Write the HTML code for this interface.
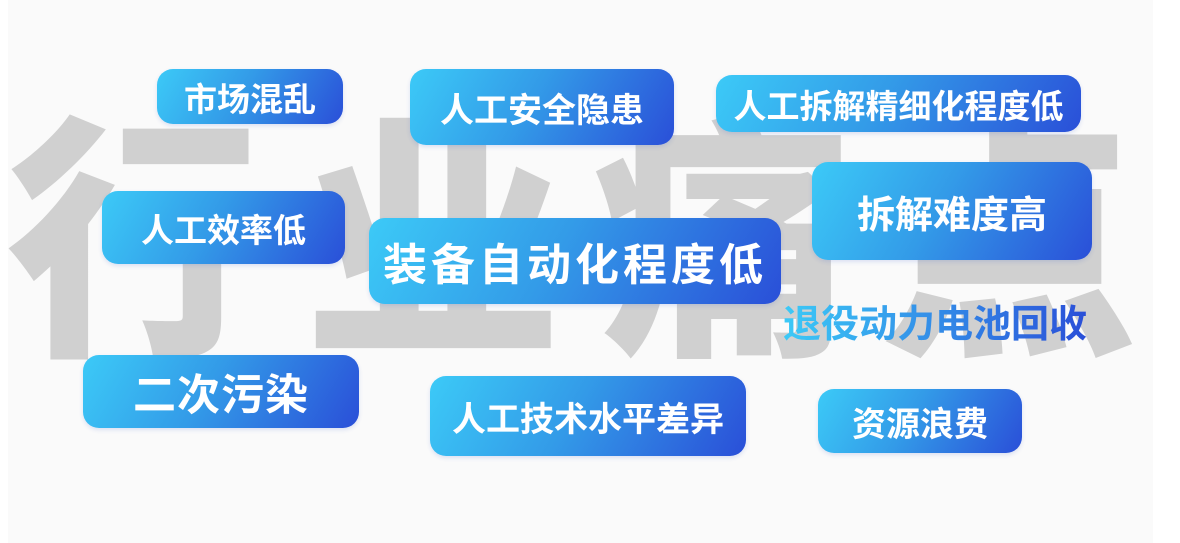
<!DOCTYPE html>
<html><head><meta charset="utf-8"><style>
*{margin:0;padding:0;box-sizing:border-box}
body{width:1180px;height:543px;background:#fff;position:relative;overflow:hidden;font-family:"Liberation Sans","Noto Sans CJK SC",sans-serif}
.panel{position:absolute;left:8px;top:0;width:1145px;height:543px;background:#fafafa}
.big{position:absolute;color:#d0d0d0;font-weight:900;font-size:258px;line-height:1;font-family:"Noto Sans CJK SC",sans-serif}
.b{position:absolute;border-radius:16px;background:linear-gradient(120deg,#3ccaf7 0%,#339be8 45%,#2a4fd8 100%);color:#fff;font-weight:700;display:flex;align-items:center;justify-content:center;font-family:"Noto Sans CJK SC",sans-serif;box-shadow:0 2px 4px rgba(40,80,200,.15);white-space:nowrap}
.t{position:absolute;left:783px;top:296px;font-size:38px;font-weight:700;font-family:"Noto Sans CJK SC",sans-serif;background:linear-gradient(90deg,#3ccaf7,#2a4fd8);-webkit-background-clip:text;background-clip:text;color:transparent;line-height:50px;white-space:nowrap}
</style></head><body>
<div class="panel"></div>
<div class="big" style="left:6px;top:95px">行</div>
<div class="big" style="left:304px;top:95px">业</div>
<div class="big" style="left:592px;top:95px">痛</div>
<div class="big" style="left:880px;top:95px">点</div>

<div class="b" style="left:157px;top:69px;width:186px;height:55px;font-size:33px">市场混乱</div>
<div class="b" style="left:410px;top:69px;width:264px;height:76px;font-size:34px">人工安全隐患</div>
<div class="b" style="left:716px;top:75px;width:365px;height:57px;font-size:33px">人工拆解精细化程度低</div>
<div class="b" style="left:102px;top:191px;width:243px;height:73px;font-size:33px">人工效率低</div>
<div class="b" style="left:812px;top:162px;width:280px;height:98px;font-size:38px">拆解难度高</div>
<div class="b" style="left:369px;top:218px;width:412px;height:86px;font-size:44px;letter-spacing:4px">装备自动化程度低</div>
<div class="t">退役动力电池回收</div>
<div class="b" style="left:83px;top:355px;width:276px;height:73px;font-size:43px;letter-spacing:1px">二次污染</div>
<div class="b" style="left:430px;top:376px;width:316px;height:80px;font-size:34px">人工技术水平差异</div>
<div class="b" style="left:818px;top:389px;width:204px;height:64px;font-size:34px">资源浪费</div>
</body></html>
